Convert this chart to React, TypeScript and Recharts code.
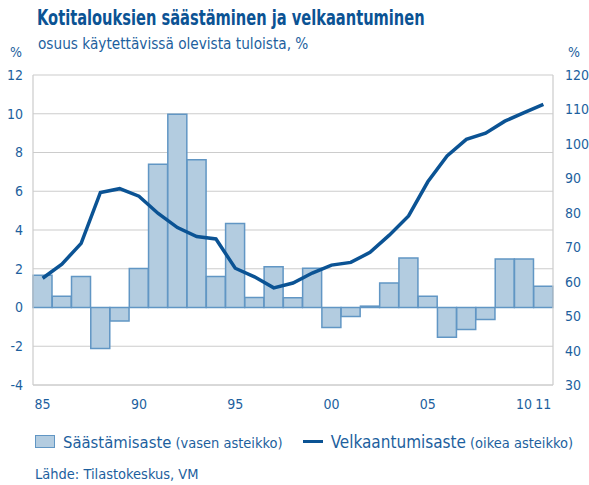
import { ComposedChart, Bar, Line, XAxis, YAxis, CartesianGrid } from "recharts";

const YEARS = [
  1985, 1986, 1987, 1988, 1989, 1990, 1991, 1992, 1993, 1994, 1995, 1996, 1997, 1998,
  1999, 2000, 2001, 2002, 2003, 2004, 2005, 2006, 2007, 2008, 2009, 2010, 2011,
];
const SAVING = [
  1.67, 0.58, 1.6, -2.12, -0.7, 2.01, 7.4, 9.97, 7.62, 1.6, 4.34, 0.52, 2.1, 0.5,
  2.03, -1.03, -0.46, 0.07, 1.27, 2.56, 0.58, -1.53, -1.14, -0.62, 2.5, 2.5, 1.1,
];
const DEBT = [
  61.0, 65.1, 71.1, 85.9, 87.0, 84.8, 79.8, 75.7, 73.1, 72.4, 63.9, 61.4, 58.2, 59.6,
  62.5, 64.8, 65.6, 68.5, 73.5, 79.1, 89.0, 96.5, 101.3, 103.1, 106.6, 109.1, 111.5,
];
const LEFT_TICKS = [-4, -2, 0, 2, 4, 6, 8, 10, 12];
const RIGHT_TICKS = [30, 40, 50, 60, 70, 80, 90, 100, 110, 120];
const X_TICKS = [1985, 1990, 1995, 2000, 2005, 2010, 2011];

const data = YEARS.map((year, i) => ({ year, saving: SAVING[i], debt: DEBT[i] }));

const BLUE = "#0b5394";
const TEXT = "#1d5f9e";
const FONT = "'Liberation Sans Narrow', 'DejaVu Sans Condensed', Roboto, sans-serif";

const tick = { fontSize: 14, fill: TEXT, fontFamily: FONT };

export default function App() {
  return (
    <div style={{ position: "absolute", left: 0, top: 0, width: 589, height: 485, background: "#fff", fontFamily: FONT }}>
      <div
        style={{
          position: "absolute",
          left: 37,
          top: 5,
          fontSize: 22,
          fontWeight: 700,
          color: BLUE,
          whiteSpace: "nowrap",
          transform: "scaleX(0.74)",
          transformOrigin: "left top",
        }}
      >
        Kotitalouksien säästäminen ja velkaantuminen
      </div>
      <div
        style={{
          position: "absolute",
          left: 38,
          top: 34,
          fontSize: 16,
          color: TEXT,
          whiteSpace: "nowrap",
          transform: "scaleX(0.95)",
          transformOrigin: "left top",
        }}
      >
        osuus käytettävissä olevista tuloista, %
      </div>
      <div style={{ position: "absolute", left: 10, top: 44, fontSize: 14, color: TEXT }}>%</div>
      <div style={{ position: "absolute", left: 568, top: 44, fontSize: 14, color: TEXT }}>%</div>
      <ComposedChart
        width={589}
        height={485}
        data={data}
        margin={{ top: 75, right: 0, bottom: 80, left: 0 }}
        barCategoryGap={0}
      >
        <CartesianGrid yAxisId="left" vertical={false} stroke="#cccccc" strokeWidth={1.2} />
        <XAxis
          dataKey="year"
          height={20}
          ticks={X_TICKS}
          interval={0}
          tickFormatter={(v) => String(v).slice(2)}
          tick={tick}
          tickLine={false}
          axisLine={{ stroke: "#cccccc" }}
          tickMargin={8}
        />
        <YAxis
          yAxisId="left"
          width={33}
          domain={[-4, 12]}
          ticks={LEFT_TICKS}
          tick={tick}
          tickLine={false}
          axisLine={{ stroke: "#cccccc", strokeWidth: 1.2 }}
          tickMargin={4}
        />
        <YAxis
          yAxisId="right"
          orientation="right"
          width={36}
          domain={[30, 120]}
          ticks={RIGHT_TICKS}
          tick={{ ...tick, textAnchor: "start" }}
          tickLine={false}
          axisLine={{ stroke: "#cccccc", strokeWidth: 1.2 }}
          tickMargin={6}
        />
        <Bar
          yAxisId="left"
          dataKey="saving"
          fill="#b3cce0"
          stroke="#6196c4"
          strokeWidth={1.5}
          isAnimationActive={false}
        />
        <Line
          yAxisId="right"
          dataKey="debt"
          type="linear"
          stroke={BLUE}
          strokeWidth={3.5}
          dot={false}
          isAnimationActive={false}
        />
      </ComposedChart>
      <div style={{ position: "absolute", left: 35, top: 432, display: "flex", alignItems: "baseline", color: TEXT, whiteSpace: "nowrap" }}>
        <span style={{ display: "inline-block", width: 18, height: 11, background: "#b3cce0", border: "1.5px solid #6196c4", marginRight: 8 }} />
        <span style={{ fontSize: 16.5 }}>Säästämisaste</span>
        <span style={{ fontSize: 14.5, marginLeft: 4 }}>(vasen asteikko)</span>
        <span style={{ display: "inline-block", width: 20, height: 3, background: BLUE, margin: "0 8px 0 20px", position: "relative", top: -5 }} />
        <span style={{ fontSize: 17 }}>Velkaantumisaste</span>
        <span style={{ fontSize: 14.5, marginLeft: 4 }}>(oikea asteikko)</span>
      </div>
      <div style={{ position: "absolute", left: 35, top: 466, fontSize: 14.5, color: TEXT }}>
        Lähde: Tilastokeskus, VM
      </div>
    </div>
  );
}
